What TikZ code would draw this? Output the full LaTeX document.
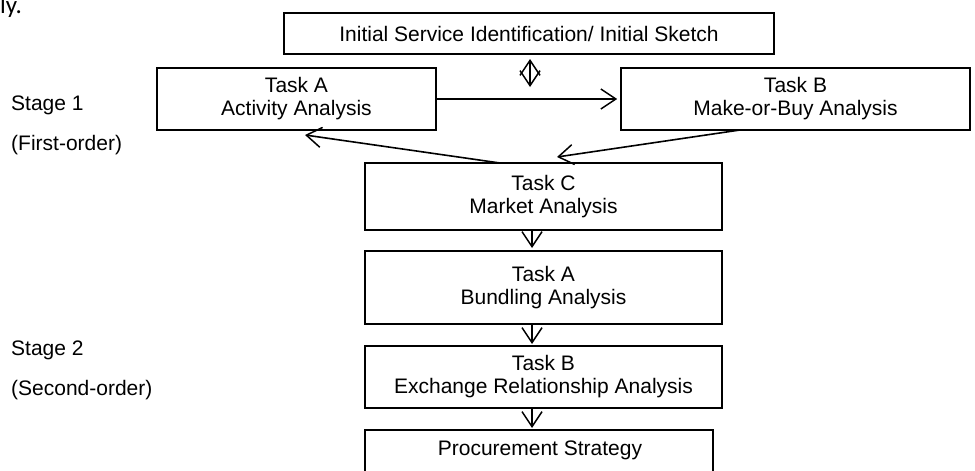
\documentclass[tikz,border=0pt]{standalone}
\usepackage{fontspec}
\setmainfont{Liberation Sans}
\newfontfamily\fragfont{Carlito}
\usetikzlibrary{arrows.meta,calc}
\begin{document}
\begin{tikzpicture}[x=1pt,y=-1pt,
  box/.style={draw=black, line width=1.6pt, inner sep=0pt, align=center,
    font=\fontsize{21}{23}\selectfont},
  conn/.style={line width=1.6pt, -{Straight Barb[length=15pt,width=20pt,line width=1.5pt]}},
  dconn/.style={line width=1.6pt, {Straight Barb[length=15pt,width=20pt,line width=1.5pt]}-{Straight Barb[length=15pt,width=20pt,line width=1.5pt]}},
  lbl/.style={anchor=west, inner sep=0pt, font=\fontsize{21}{23}\selectfont}]
\useasboundingbox (0,0) rectangle (975,471);
% boxes
\node[box, minimum width=490pt, minimum height=41pt] (top) at (529,33.5) {Initial Service Identification/ Initial Sketch};
\node[box, minimum width=279pt, minimum height=62pt] (A) at (296.5,99) {Task A\\Activity Analysis};
\node[box, minimum width=349pt, minimum height=62pt] (B) at (795.5,99) {Task B\\Make-or-Buy Analysis};
\node[box, minimum width=357pt, minimum height=67pt] (C) at (543.5,196.5) {Task C\\Market Analysis};
\node[box, minimum width=357pt, minimum height=73pt] (D) at (543.5,287.5) {Task A\\Bundling Analysis};
\node[box, minimum width=357pt, minimum height=62pt] (E) at (543.5,377) {Task B\\Exchange Relationship Analysis};
\node[box, minimum width=348pt, minimum height=50pt, text depth=0pt] (F) at (539,455) {};
\node[inner sep=0pt, font=\fontsize{21}{23}\selectfont] (Ft) at (540,450) {Procurement Strategy};
% stage labels
\node[lbl] (s1) at (11,105) {Stage 1};
\node[lbl] (s1b) at (11,145) {(First-order)};
\node[lbl] (s2) at (11,350) {Stage 2};
\node[lbl] (s2b) at (11,390) {(Second-order)};
% cropped fragment of the source text
\node[anchor=base west, inner sep=0pt, font=\fragfont\fontsize{25}{27}\selectfont] (frag) at (0,13) {ly.};
% connector anchors
\coordinate (d1) at (530,59);
\coordinate (d2) at (530,87);
\coordinate (cA) at (500,163);
\coordinate (tA) at (305,135);
\coordinate (bB) at (740,130);
\coordinate (tB) at (557,157);
\coordinate (c1) at (532,230);
\coordinate (t1) at (532,248);
\coordinate (c2) at (532,324);
\coordinate (t2) at (532,344);
\coordinate (c3) at (532,408);
\coordinate (t3) at (532,428);
% connectors
\draw[dconn] (d1) -- (d2);
\draw[conn] (A.east) -- ($(B.west)+(-3,0)$);
\draw[conn] (cA) -- (tA);
\draw[conn] (bB) -- (tB);
\draw[conn] (c1) -- (t1);
\draw[conn] (c2) -- (t2);
\draw[conn] (c3) -- (t3);
\end{tikzpicture}
\end{document}
